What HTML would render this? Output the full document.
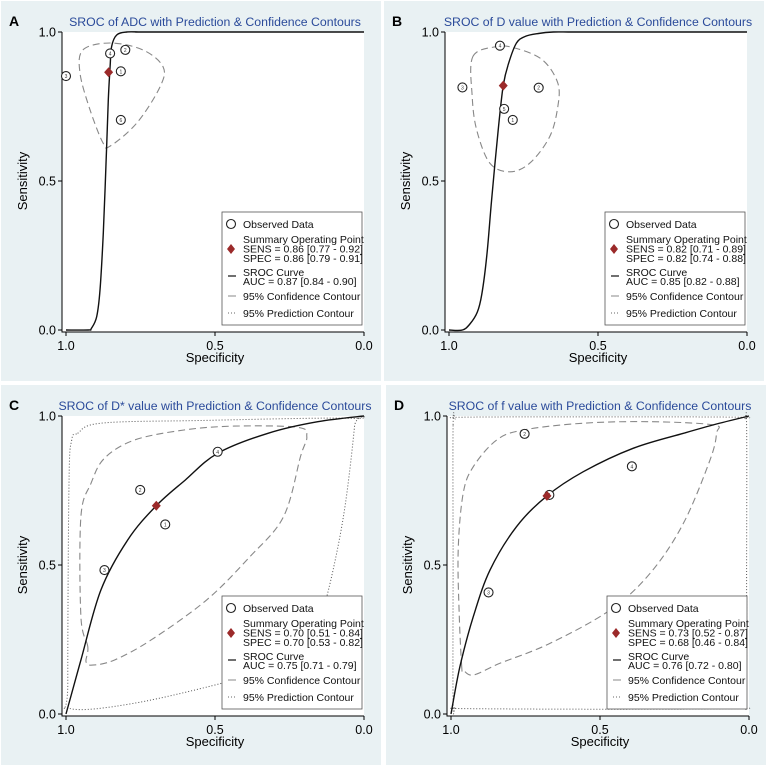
<!DOCTYPE html>
<html><head><meta charset="utf-8"><style>
html,body{margin:0;padding:0;background:#fff;}
svg{display:block;font-family:"Liberation Sans",sans-serif;}
</style></head><body>
<svg id="fig" width="767" height="767" viewBox="0 0 767 767"></svg>
<script>
// Panel A data (spec, sens)
const titleA = "SROC of ADC with Prediction & Confidence Contours";
const studiesA = [[0.852,0.928,"4"],[0.801,0.94,"2"],[0.816,0.868,"1"],[1.0,0.852,"3"],[0.816,0.705,"6"]];
const summaryA = [0.857,0.865];
const curveA = [[1,0],[0.925,0],[0.915,0.005],[0.897,0.045],[0.886,0.134],[0.875,0.325],[0.866,0.548],[0.858,0.772],[0.852,0.884],[0.847,0.951],[0.83,0.99],[0.796,1],[0.75,1],[0.7,1],[0,1]];
const confA = [[0.943,0.94],[0.852,0.963],[0.742,0.94],[0.674,0.883],[0.685,0.815],[0.762,0.695],[0.852,0.617],[0.876,0.628],[0.919,0.738],[0.953,0.862]];
const predA = [];
const legendA = ["SENS = 0.86 [0.77 - 0.92]","SPEC = 0.86 [0.79 - 0.91]","AUC = 0.87 [0.84 - 0.90]"];

// Panel B
const titleB = "SROC of D value with Prediction & Confidence Contours";
const studiesB = [[0.829,0.954,"4"],[0.955,0.814,"3"],[0.699,0.813,"2"],[0.815,0.742,"5"],[0.786,0.705,"1"]];
const summaryB = [0.818,0.82];
const curveB = [[1,0],[0.955,0],[0.93,0.02],[0.905,0.06],[0.89,0.12],[0.873,0.25],[0.857,0.436],[0.835,0.671],[0.818,0.82],[0.80,0.895],[0.774,0.962],[0.745,0.985],[0.70,0.995],[0.65,1],[0.6,1],[0.55,1],[0,1]];
const confB = [[0.92,0.917],[0.84,0.951],[0.774,0.945],[0.686,0.906],[0.635,0.829],[0.635,0.749],[0.662,0.649],[0.729,0.56],[0.796,0.531],[0.863,0.56],[0.907,0.671],[0.922,0.783]];
const predB = [];
const legendB = ["SENS = 0.82 [0.71 - 0.89]","SPEC = 0.82 [0.74 - 0.88]","AUC = 0.85 [0.82 - 0.88]"];

// Panel C
const titleC = "SROC of D* value with Prediction & Confidence Contours";
const studiesC = [[0.491,0.88,"4"],[0.751,0.752,"2"],[0.667,0.636,"1"],[0.871,0.483,"3"]];
const summaryC = [0.697,0.699];
const curveC = [[1,0],[0.95,0.181],[0.883,0.416],[0.793,0.584],[0.697,0.699],[0.60,0.785],[0.491,0.875],[0.322,0.942],[0.155,0.981],[0,1]];
const confC = [[0.927,0.226],[0.95,0.327],[0.95,0.662],[0.916,0.774],[0.871,0.858],[0.771,0.919],[0.604,0.953],[0.436,0.966],[0.223,0.962],[0.192,0.931],[0.213,0.864],[0.27,0.662],[0.383,0.528],[0.528,0.383],[0.715,0.248],[0.838,0.181],[0.911,0.164],[0.933,0.176]];
const predC = [[0.961,0.942],[0.883,0.976],[0.549,0.985],[0.038,0.992],[0.032,0.964],[0.069,0.662],[0.125,0.394],[0.17,0.27],[0.27,0.17],[0.436,0.114],[0.772,0.036],[0.989,0.019],[0.994,0.104],[0.99,0.774],[0.981,0.919]];
const legendC = ["SENS = 0.70 [0.51 - 0.84]","SPEC = 0.70 [0.53 - 0.82]","AUC = 0.75 [0.71 - 0.79]"];

// Panel D
const titleD = "SROC of f value with Prediction & Confidence Contours";
const studiesD = [[0.753,0.94,"2"],[0.393,0.831,"4"],[0.67,0.735,"1"],[0.874,0.408,"3"]];
const summaryD = [0.678,0.732];
const curveD = [[1,0],[0.97,0.159],[0.925,0.327],[0.869,0.483],[0.78,0.629],[0.678,0.732],[0.556,0.813],[0.388,0.892],[0.22,0.942],[0.109,0.973],[0,1]];
const confD = [[0.964,0.159],[0.972,0.327],[0.976,0.55],[0.959,0.741],[0.925,0.83],[0.847,0.919],[0.757,0.953],[0.556,0.976],[0.332,0.981],[0.12,0.97],[0.109,0.942],[0.131,0.852],[0.22,0.64],[0.332,0.472],[0.466,0.349],[0.668,0.237],[0.836,0.17],[0.925,0.131],[0.959,0.148]];
const predD = [[0.993,0.97],[0.985,0.99],[0.96,0.996],[0.5,0.997],[0.04,0.996],[0.015,0.99],[0.008,0.97],[0.008,0.5],[0.009,0.06],[0.015,0.025],[0.04,0.018],[0.5,0.016],[0.96,0.018],[0.985,0.022],[0.993,0.04],[0.993,0.5]];
const legendD = ["SENS = 0.73 [0.52 - 0.87]","SPEC = 0.68 [0.46 - 0.84]","AUC = 0.76 [0.72 - 0.80]"];

const tickVals = [0, 0.5, 1];
const tickLabels = ["0.0","0.5","1.0"];

const NS = "http://www.w3.org/2000/svg";
const svg = document.getElementById("fig");
function mk(tag, attrs, parent){ const e=document.createElementNS(NS,tag); for(const k in attrs) e.setAttribute(k,attrs[k]); (parent||svg).appendChild(e); return e; }

function smoothClosed(pts){
  const n=pts.length; let d="M"+pts[0][0].toFixed(1)+","+pts[0][1].toFixed(1);
  for(let i=0;i<n;i++){
    const p0=pts[(i-1+n)%n],p1=pts[i],p2=pts[(i+1)%n],p3=pts[(i+2)%n];
    const c1=[p1[0]+(p2[0]-p0[0])/6,p1[1]+(p2[1]-p0[1])/6];
    const c2=[p2[0]-(p3[0]-p1[0])/6,p2[1]-(p3[1]-p1[1])/6];
    d+=" C"+c1.map(v=>v.toFixed(1))+" "+c2.map(v=>v.toFixed(1))+" "+p2.map(v=>v.toFixed(1));
  }
  return d+"Z";
}
function smoothOpen(pts){
  const n=pts.length; let d="M"+pts[0][0].toFixed(1)+","+pts[0][1].toFixed(1);
  for(let i=0;i<n-1;i++){
    const p0=pts[Math.max(i-1,0)],p1=pts[i],p2=pts[i+1],p3=pts[Math.min(i+2,n-1)];
    const c1=[p1[0]+(p2[0]-p0[0])/6,p1[1]+(p2[1]-p0[1])/6];
    const c2=[p2[0]-(p3[0]-p1[0])/6,p2[1]-(p3[1]-p1[1])/6];
    d+=" C"+c1.map(v=>v.toFixed(1))+" "+c2.map(v=>v.toFixed(1))+" "+p2.map(v=>v.toFixed(1));
  }
  return d;
}

function panel(ox, oy, letter, title, studies, summary, curve, conf, pred, leg){
  const g = mk("g",{transform:`translate(${ox},${oy})`});
  
  
  const bg=mk("rect",{x:1,y:1,width:380,height:380,fill:"#e9f1f3"},g);
  
  
  const L=62,R=364,T=32,B=332;
  const pr=mk("rect",{x:L,y:T,width:R-L,height:B-T,fill:"#fff"},g);
  
  
  const sx=s=>66+(1-s)*298, sy=v=>330-v*298;
  const P=a=>[sx(a[0]),sy(a[1])];
  const lt=mk("text",{x:9,y:26,"font-size":"14","font-weight":"bold",fill:"#000"},g); lt.textContent=letter;
  
  
  const tt=mk("text",{x:215,y:26,"font-size":"12.3","text-anchor":"middle",fill:"#2a4a9a"},g); tt.textContent=title;
  
  
  const ax=mk("path",{d:`M${L},${T}V${B}H${R}`,stroke:"#000","stroke-width":"1",fill:"none"},g);
  
  
  tickVals.forEach((v,i)=>{
    const y=sy(v), x=sx(v);
    const t1=mk("line",{x1:L-4,x2:L,y1:y,y2:y,stroke:"#000"},g);
    
    
    const l1=mk("text",{x:L-6,y:y+4.5,"font-size":"12.5","text-anchor":"end"},g); l1.textContent=tickLabels[i];
    
    
    const t2=mk("line",{x1:x,x2:x,y1:B,y2:B+4,stroke:"#000"},g);
    
    
    const l2=mk("text",{x:x,y:B+18,"font-size":"12.5","text-anchor":"middle"},g); l2.textContent=tickLabels[i];
    
    
  });
  const xt=mk("text",{x:215,y:362,"font-size":"13","text-anchor":"middle"},g); xt.textContent="Specificity";
  
  
  const yt=mk("text",{x:0,y:0,"font-size":"13","text-anchor":"middle",transform:"translate(27,181) rotate(-90)"},g); yt.textContent="Sensitivity";
  
  
  if(pred.length){
    const pp=mk("path",{d:smoothClosed(pred.map(P)),fill:"none",stroke:"#555","stroke-width":"1","stroke-dasharray":"1,2"},g);
    
    
  }
  const cp=mk("path",{d:smoothClosed(conf.map(P)),fill:"none",stroke:"#888","stroke-width":"1.1","stroke-dasharray":"7,4"},g);
  
  
  const sc=mk("path",{d:smoothOpen(curve.map(P)),fill:"none",stroke:"#111","stroke-width":"1.4"},g);
  
  
  studies.forEach(s=>{
    const c=mk("circle",{cx:sx(s[0]),cy:sy(s[1]),r:4.5,fill:"#fff",stroke:"#222","stroke-width":"1.1"},g);
    
    
    const tx=mk("text",{x:sx(s[0]),y:sy(s[1])+2,"font-size":"5","text-anchor":"middle",fill:"#333"},g); tx.textContent=s[2];
    
    
  });
  const dx=sx(summary[0]), dy=sy(summary[1]);
  const dm=mk("path",{d:`M${dx},${dy-5}L${dx+4.5},${dy}L${dx},${dy+5}L${dx-4.5},${dy}Z`,fill:"#9b2a2a"},g);
  
  
  const lg=mk("g",{},g);
  
  
  mk("rect",{x:222,y:212,width:140,height:113,fill:"#fff",stroke:"#555","stroke-width":"0.8"},lg);
  mk("circle",{cx:231,cy:224,r:4.5,fill:"#fff",stroke:"#222","stroke-width":"1.1"},lg);
  mk("path",{d:"M231,244L235,249L231,254L227,249Z",fill:"#9b2a2a"},lg);
  mk("line",{x1:228,x2:236,y1:276,y2:276,stroke:"#111","stroke-width":"1.2"},lg);
  mk("line",{x1:228,x2:236,y1:296,y2:296,stroke:"#888","stroke-width":"1"},lg);
  mk("line",{x1:228,x2:236,y1:313,y2:313,stroke:"#666","stroke-width":"1","stroke-dasharray":"1,2"},lg);
  const lines=[["Observed Data",228],["Summary Operating Point",243],[leg[0],252.5],[leg[1],262],["SROC Curve",276],[leg[2],285],["95% Confidence Contour",300],["95% Prediction Contour",317]];
  lines.forEach(l=>{
    const t=mk("text",{x:243,y:l[1],"font-size":"10.5",fill:"#111"},lg); t.textContent=l[0];
    
    
  });
}
panel(0,0,"A",titleA,studiesA,summaryA,curveA,confA,predA,legendA);
panel(383,0,"B",titleB,studiesB,summaryB,curveB,confB,predB,legendB);
panel(0,384,"C",titleC,studiesC,summaryC,curveC,confC,predC,legendC);
panel(385,384,"D",titleD,studiesD,summaryD,curveD,confD,predD,legendD);
</script>
</body></html>
